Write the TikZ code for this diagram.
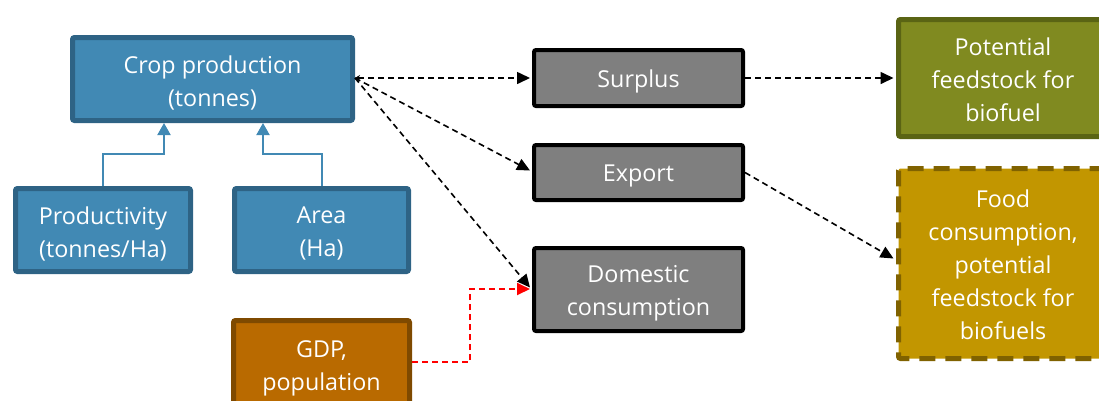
\documentclass[tikz,border=0pt]{standalone}
\usepackage{fontspec}
\setmainfont{Open Sans}
\usetikzlibrary{arrows.meta,calc}
\definecolor{bfill}{RGB}{65,137,180}
\definecolor{bdraw}{RGB}{46,99,133}
\definecolor{gfill}{RGB}{127,127,127}
\definecolor{ofill}{RGB}{185,106,0}
\definecolor{odraw}{RGB}{127,74,0}
\definecolor{pfill}{RGB}{128,138,32}
\definecolor{pdraw}{RGB}{90,100,20}
\definecolor{ffill}{RGB}{194,150,0}
\definecolor{fdraw}{RGB}{128,98,0}
\tikzset{
  txt/.style={inner sep=0pt, align=center, text=white, yshift=-3.5pt,
    font=\fontsize{23.3}{33}\selectfont},
  box/.style={rectangle, rounded corners=2pt, inner sep=0pt},
  bluebox/.style={box, fill=bfill, draw=bdraw, line width=5pt},
  graybox/.style={box, fill=gfill, draw=black, line width=4pt},
  orangebox/.style={box, fill=ofill, draw=odraw, line width=5pt},
  olivebox/.style={box, fill=pfill, draw=pdraw, line width=5pt},
  foodbox/.style={box, fill=ffill, draw=fdraw, line width=5pt, dash pattern=on 16pt off 10pt},
  blueline/.style={draw=bfill, line width=2pt, -{Triangle[length=12pt,width=13pt]}},
  dline/.style={draw=black, line width=1.6pt, dash pattern=on 6pt off 4pt, -{Triangle[length=13pt,width=12pt]}},
  rline/.style={draw=red, color=red, line width=1.8pt, dash pattern=on 6pt off 4pt, -{Triangle[length=13pt,width=12pt]}},
}
\begin{document}
\begin{tikzpicture}[x=1pt,y=-1pt]
\useasboundingbox (0,0) rectangle (1099,400);
\clip (0,0) rectangle (1099,400);
\node[bluebox, minimum width=280pt, minimum height=83pt, label={[txt]center:Crop production\\(tonnes)}] (crop) at (212.5,79) {};
\node[bluebox, minimum width=175pt, minimum height=83pt, label={[txt]center:Productivity\\(tonnes/Ha)}] (prod) at (103,230) {};
\node[bluebox, minimum width=174pt, minimum height=83pt, label={[txt]center:Area\\(Ha)}] (area) at (321.5,230) {};
\node[orangebox, minimum width=176pt, minimum height=89pt, label={[txt]center:GDP,\\population}] (gdp) at (321.5,365) {};
\node[graybox, minimum width=209pt, minimum height=56pt, label={[txt]center:Surplus}] (surplus) at (638.5,78) {};
\node[graybox, minimum width=209pt, minimum height=55pt, label={[txt]center:Export}] (export) at (638.5,172.5) {};
\node[graybox, minimum width=209pt, minimum height=83pt, label={[txt]center:Domestic\\consumption}] (dom) at (638.5,289.5) {};
\node[olivebox, minimum width=209pt, minimum height=117pt, label={[txt, yshift=1.5pt]center:Potential\\feedstock for\\biofuel}] (pot) at (1003,78) {};
\node[foodbox, minimum width=209pt, minimum height=190pt, label={[txt, yshift=2.5pt]center:Food\\consumption,\\potential\\feedstock for\\biofuels}] (food) at (1003,263.5) {};
\coordinate (c1) at (164,123);
\coordinate (c2) at (263,123);
\draw[blueline] (prod.north) -- ++(0,-32) -| (c1);
\draw[blueline] (area.north) -- ++(0,-32) -| (c2);
\coordinate (cs) at (355,78);
\coordinate (rc) at (470,362);
\coordinate (dt) at (530,289);
\draw[dline, {Stealth[length=5pt,width=6pt]}-{Triangle[length=13pt,width=12pt]}] (cs) -- ($(surplus.west)+(-2,0)$);
\draw[dline] (cs) -- ($(export.west)+(-2,-2)$);
\draw[dline] (cs) -- ($(dom.west)+(-2,-2)$);
\draw[rline] (gdp.east |- rc) -- (rc) -- (rc |- dt) -- (dt);
\draw[dline] (surplus.east) -- ($(pot.west)+(-2.5,0)$);
\draw[dline] (export.east) -- ($(food.west)+(-2.5,-5)$);
\end{tikzpicture}
\end{document}
